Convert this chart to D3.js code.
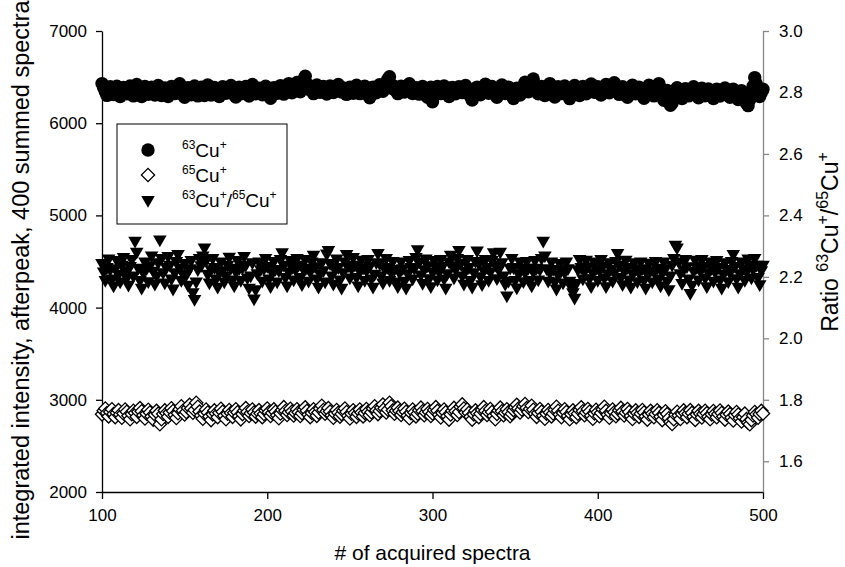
<!DOCTYPE html>
<html>
<head>
    <script type="text/javascript" src="https://cdn.jsdelivr.net/npm/d3@7/dist/d3.min.js"></script>
    <style>
        body { margin: 0; background: #fff; }
        text { font-family: "Liberation Sans", Arial, sans-serif; fill: #000; }
    </style>
</head>
<body>
    <div id="viz"></div>
    <script type="text/javascript">

    // spectra 100..500, one point each
    var firstSpectrum = 100;

    var cu63 = [
        6430, 6385, 6342, 6301, 6368, 6395, 6352, 6310, 6378, 6402, 6335, 6290, 6360, 6388, 6347, 6318, 6372, 6405, 6338, 6296,
        6365, 6420, 6375, 6330, 6288, 6352, 6398, 6361, 6314, 6345, 6390, 6342, 6305, 6370, 6410, 6356, 6299, 6338, 6382, 6327,
        6290, 6355, 6398, 6368, 6320, 6346, 6392, 6428, 6362, 6312, 6281, 6340, 6385, 6352, 6308, 6366, 6405, 6343, 6296, 6359,
        6392, 6331, 6300, 6372, 6415, 6348, 6305, 6340, 6387, 6360, 6318, 6290, 6352, 6396, 6368, 6325, 6345, 6384, 6410, 6356,
        6310, 6283, 6346, 6390, 6362, 6322, 6376, 6398, 6341, 6295, 6352, 6420, 6370, 6318, 6337, 6381, 6355, 6309, 6364, 6402,
        6347, 6300, 6271, 6338, 6386, 6360, 6325, 6372, 6408, 6352, 6315, 6342, 6389, 6430, 6378, 6330, 6356, 6398, 6442, 6385,
        6340, 6395, 6470, 6510, 6425, 6368, 6402, 6356, 6320, 6380, 6415, 6362, 6335, 6372, 6398, 6350, 6316, 6365, 6405, 6376,
        6332, 6361, 6394, 6420, 6370, 6338, 6382, 6355, 6312, 6348, 6390, 6366, 6325, 6376, 6412, 6357, 6320, 6346, 6385, 6402,
        6351, 6310, 6275, 6340, 6392, 6368, 6330, 6375, 6418, 6387, 6345, 6398, 6440, 6478, 6505, 6420, 6372, 6398, 6352, 6320,
        6366, 6402, 6375, 6338, 6356, 6392, 6428, 6370, 6322, 6348, 6384, 6356, 6315, 6362, 6398, 6370, 6330, 6280, 6345, 6390,
        6232, 6300, 6352, 6398, 6365, 6320, 6368, 6405, 6380, 6338, 6290, 6352, 6388, 6360, 6318, 6346, 6395, 6375, 6331, 6362,
        6410, 6376, 6335, 6290, 6250, 6322, 6366, 6392, 6350, 6308, 6348, 6385, 6422, 6370, 6325, 6356, 6398, 6362, 6318, 6280,
        6340, 6386, 6415, 6366, 6322, 6355, 6392, 6350, 6305, 6268, 6335, 6380, 6348, 6306, 6362, 6401, 6445, 6385, 6340, 6372,
        6418, 6480, 6402, 6355, 6318, 6365, 6398, 6352, 6300, 6340, 6390, 6430, 6376, 6325, 6284, 6350, 6396, 6362, 6320, 6365,
        6404, 6372, 6330, 6266, 6322, 6371, 6410, 6385, 6342, 6300, 6355, 6398, 6360, 6318, 6345, 6392, 6426, 6378, 6335, 6360,
        6395, 6352, 6306, 6345, 6388, 6420, 6376, 6330, 6365, 6402, 6440, 6398, 6350, 6312, 6356, 6395, 6368, 6322, 6280, 6340,
        6385, 6412, 6366, 6318, 6345, 6392, 6360, 6305, 6270, 6335, 6378, 6412, 6385, 6342, 6296, 6352, 6398, 6430, 6380, 6310,
        6248, 6295, 6356, 6262, 6195, 6220, 6285, 6340, 6386, 6350, 6302, 6268, 6330, 6375, 6342, 6296, 6318, 6362, 6395, 6352,
        6300, 6275, 6338, 6380, 6345, 6298, 6330, 6372, 6348, 6302, 6268, 6325, 6370, 6340, 6295, 6316, 6358, 6382, 6344, 6300,
        6282, 6330, 6368, 6335, 6290, 6256, 6310, 6352, 6318, 6270, 6215, 6190, 6255, 6330, 6402, 6495, 6425, 6348, 6290, 6330,
        6368
    ];

    var cu65 = [
        2842, 2880, 2905, 2856, 2820, 2868, 2898, 2845, 2812, 2860, 2888, 2840, 2805, 2852, 2895, 2870, 2828, 2790, 2845, 2882,
        2858, 2815, 2870, 2910, 2875, 2832, 2798, 2850, 2892, 2862, 2820, 2785, 2838, 2880, 2850, 2735, 2790, 2846, 2885, 2855,
        2815, 2862, 2908, 2878, 2835, 2802, 2855, 2898, 2930, 2882, 2840, 2868, 2912, 2945, 2905, 2860, 2890, 2968, 2925, 2872,
        2830, 2795, 2850, 2895, 2862, 2818, 2780, 2842, 2885, 2852, 2812, 2860, 2902, 2870, 2826, 2790, 2848, 2890, 2858, 2815,
        2860, 2898, 2865, 2822, 2788, 2845, 2882, 2910, 2868, 2825, 2855, 2895, 2862, 2818, 2850, 2888, 2852, 2812, 2846, 2885,
        2905, 2866, 2825, 2858, 2896, 2870, 2832, 2800, 2852, 2890, 2920, 2878, 2836, 2865, 2902, 2872, 2830, 2858, 2898, 2866,
        2825, 2855, 2892, 2918, 2880, 2838, 2812, 2858, 2898, 2868, 2826, 2862, 2905, 2935, 2890, 2848, 2875, 2910, 2872, 2830,
        2805, 2850, 2890, 2860, 2818, 2845, 2882, 2905, 2868, 2826, 2798, 2848, 2886, 2856, 2815, 2852, 2895, 2862, 2820, 2858,
        2900, 2870, 2832, 2865, 2905, 2930, 2885, 2845, 2878, 2915, 2948, 2905, 2862, 2892, 2968, 2930, 2885, 2848, 2882, 2915,
        2878, 2835, 2866, 2902, 2870, 2828, 2800, 2856, 2895, 2862, 2820, 2848, 2886, 2915, 2875, 2832, 2862, 2900, 2868, 2825,
        2852, 2890, 2920, 2880, 2838, 2808, 2856, 2895, 2865, 2822, 2785, 2840, 2882, 2912, 2875, 2835, 2868, 2925, 2950, 2905,
        2862, 2895, 2858, 2815, 2785, 2842, 2885, 2855, 2812, 2848, 2890, 2920, 2878, 2836, 2865, 2900, 2868, 2825, 2790, 2846,
        2885, 2915, 2875, 2832, 2860, 2898, 2866, 2822, 2850, 2888, 2918, 2945, 2905, 2862, 2895, 2930, 2955, 2910, 2868, 2900,
        2935, 2892, 2850, 2815, 2858, 2900, 2870, 2828, 2795, 2850, 2890, 2862, 2820, 2852, 2892, 2925, 2882, 2840, 2810, 2858,
        2898, 2868, 2825, 2790, 2842, 2885, 2855, 2812, 2848, 2890, 2918, 2875, 2832, 2862, 2900, 2870, 2826, 2795, 2852, 2892,
        2865, 2822, 2858, 2898, 2925, 2880, 2838, 2805, 2855, 2895, 2865, 2822, 2850, 2888, 2912, 2872, 2830, 2860, 2900, 2868,
        2825, 2792, 2848, 2885, 2856, 2815, 2850, 2890, 2862, 2820, 2785, 2840, 2880, 2852, 2810, 2846, 2886, 2858, 2815, 2780,
        2835, 2875, 2845, 2800, 2760, 2738, 2790, 2838, 2870, 2830, 2792, 2846, 2885, 2855, 2812, 2848, 2888, 2858, 2815, 2782,
        2840, 2880, 2850, 2808, 2845, 2882, 2855, 2815, 2790, 2842, 2878, 2850, 2810, 2846, 2884, 2856, 2818, 2785, 2838, 2872,
        2845, 2805, 2776, 2832, 2868, 2840, 2800, 2765, 2812, 2850, 2790, 2752, 2735, 2780, 2830, 2868, 2842, 2805, 2845, 2880,
        2852
    ];

    var ratio = [
        2.245, 2.218, 2.190, 2.232, 2.260, 2.225, 2.195, 2.172, 2.228, 2.255, 2.210, 2.185, 2.240, 2.265, 2.222, 2.198, 2.175, 2.236, 2.258, 2.205,
        2.318, 2.282, 2.230, 2.190, 2.165, 2.215, 2.250, 2.228, 2.186, 2.238, 2.270, 2.220, 2.178, 2.205, 2.248, 2.322, 2.262, 2.215, 2.182, 2.232,
        2.268, 2.240, 2.195, 2.162, 2.215, 2.252, 2.275, 2.230, 2.190, 2.212, 2.245, 2.208, 2.175, 2.228, 2.255, 2.150, 2.128, 2.185, 2.225, 2.262,
        2.238, 2.270, 2.296, 2.255, 2.210, 2.182, 2.225, 2.262, 2.232, 2.195, 2.168, 2.215, 2.250, 2.222, 2.185, 2.205, 2.240, 2.266, 2.230, 2.192,
        2.172, 2.218, 2.255, 2.228, 2.190, 2.232, 2.268, 2.240, 2.198, 2.165, 2.205, 2.248, 2.130, 2.160, 2.212, 2.250, 2.225, 2.188, 2.228, 2.262,
        2.236, 2.195, 2.170, 2.215, 2.252, 2.226, 2.185, 2.222, 2.258, 2.280, 2.240, 2.200, 2.172, 2.218, 2.255, 2.232, 2.192, 2.225, 2.262, 2.240,
        2.200, 2.176, 2.225, 2.258, 2.230, 2.188, 2.218, 2.250, 2.272, 2.235, 2.195, 2.168, 2.212, 2.248, 2.222, 2.185, 2.276, 2.288, 2.245, 2.205,
        2.178, 2.225, 2.260, 2.232, 2.192, 2.165, 2.215, 2.250, 2.275, 2.238, 2.198, 2.228, 2.265, 2.240, 2.200, 2.172, 2.220, 2.256, 2.230, 2.190,
        2.222, 2.258, 2.236, 2.195, 2.168, 2.210, 2.248, 2.278, 2.245, 2.205, 2.182, 2.228, 2.262, 2.232, 2.190, 2.215, 2.252, 2.226, 2.185, 2.170,
        2.215, 2.250, 2.228, 2.188, 2.165, 2.212, 2.255, 2.232, 2.195, 2.228, 2.265, 2.290, 2.250, 2.208, 2.180, 2.225, 2.260, 2.238, 2.196, 2.170,
        2.218, 2.255, 2.232, 2.192, 2.218, 2.258, 2.236, 2.195, 2.165, 2.212, 2.250, 2.272, 2.238, 2.198, 2.226, 2.262, 2.288, 2.245, 2.205, 2.178,
        2.220, 2.258, 2.232, 2.190, 2.168, 2.215, 2.252, 2.286, 2.245, 2.202, 2.176, 2.222, 2.258, 2.232, 2.190, 2.218, 2.255, 2.280, 2.240, 2.196,
        2.225, 2.282, 2.248, 2.205, 2.178, 2.140, 2.188, 2.230, 2.262, 2.232, 2.190, 2.166, 2.212, 2.250, 2.226, 2.186, 2.215, 2.252, 2.230, 2.190,
        2.172, 2.218, 2.255, 2.230, 2.192, 2.225, 2.262, 2.318, 2.270, 2.228, 2.188, 2.215, 2.250, 2.226, 2.185, 2.162, 2.208, 2.245, 2.222, 2.182,
        2.215, 2.250, 2.228, 2.188, 2.168, 2.150, 2.132, 2.180, 2.225, 2.258, 2.232, 2.195, 2.220, 2.256, 2.235, 2.196, 2.170, 2.215, 2.250, 2.228,
        2.190, 2.222, 2.258, 2.236, 2.198, 2.170, 2.212, 2.248, 2.226, 2.188, 2.215, 2.252, 2.278, 2.240, 2.200, 2.176, 2.220, 2.256, 2.232, 2.192,
        2.168, 2.212, 2.248, 2.225, 2.186, 2.215, 2.250, 2.228, 2.190, 2.165, 2.210, 2.246, 2.222, 2.185, 2.218, 2.252, 2.230, 2.195, 2.172, 2.215,
        2.250, 2.228, 2.188, 2.160, 2.205, 2.240, 2.262, 2.305, 2.296, 2.250, 2.212, 2.180, 2.225, 2.258, 2.235, 2.195, 2.148, 2.175, 2.220, 2.256,
        2.232, 2.192, 2.222, 2.258, 2.236, 2.198, 2.170, 2.215, 2.250, 2.228, 2.188, 2.218, 2.255, 2.232, 2.192, 2.165, 2.210, 2.248, 2.226, 2.186,
        2.215, 2.252, 2.275, 2.236, 2.196, 2.168, 2.212, 2.250, 2.228, 2.190, 2.218, 2.260, 2.238, 2.198, 2.226, 2.262, 2.240, 2.200, 2.176, 2.222,
        2.240
    ];

    var xTicks = [100, 200, 300, 400, 500];
    var leftTicks = [2000, 3000, 4000, 5000, 6000, 7000];
    var rightTicks = [1.6, 1.8, 2.0, 2.2, 2.4, 2.6, 2.8, 3.0];

    var W = 845, H = 567;
    // plot area (don't call these top/left - window.top is read only)
    var pLeft = 102, pRight = 763, pTop = 31, pBottom = 492;

    var svg = d3.select("#viz").append("svg")
        .attr("width", W)
        .attr("height", H);

    var x = d3.scaleLinear().domain([100, 500]).range([pLeft, pRight]);
    var yL = d3.scaleLinear().domain([2000, 7000]).range([pBottom, pTop]);
    var yR = d3.scaleLinear().domain([1.5, 3.0]).range([pBottom, pTop]);

    // axes
    var gx = svg.append("g").attr("transform", "translate(0," + pBottom + ")")
        .call(d3.axisBottom(x).tickValues(xTicks).tickFormat(d3.format("d")).tickSize(7).tickPadding(10).tickSizeOuter(0));
    var gl = svg.append("g").attr("transform", "translate(" + pLeft + ",0)")
        .call(d3.axisLeft(yL).tickValues(leftTicks).tickFormat(d3.format("d")).tickSize(6).tickPadding(9).tickSizeOuter(0));
    var gr = svg.append("g").attr("transform", "translate(" + pRight + ",0)")
        .call(d3.axisRight(yR).tickValues(rightTicks).tickFormat(d3.format(".1f")).tickSize(6).tickPadding(10).tickSizeOuter(0));

    [gx, gl, gr].forEach(function(g) {
        g.selectAll("text").style("font-size", "17px").style("font-family", "'Liberation Sans', Arial, sans-serif").attr("fill", "#000");
        g.selectAll("path, line").attr("stroke", "#000").attr("stroke-width", 1.3);
    });
    gr.selectAll("path, line").attr("stroke", "#888");

    function rows(vals) {
        return vals.map(function(v, i) { return { s: firstSpectrum + i, v: v }; });
    }

    var circle = d3.symbol().type(d3.symbolCircle).size(140);
    var diamond = d3.symbol().type(d3.symbolSquare).size(88);
    var triangle = d3.symbol().type(d3.symbolTriangle).size(80);

    var plot = svg.append("g");

    plot.selectAll(".c63").data(rows(cu63)).enter().append("path")
        .attr("d", circle)
        .attr("transform", function(d) { return "translate(" + x(d.s) + "," + yL(d.v) + ")"; })
        .attr("fill", "#000");

    plot.selectAll(".c65").data(rows(cu65)).enter().append("path")
        .attr("d", diamond)
        .attr("transform", function(d) { return "translate(" + x(d.s) + "," + yL(d.v) + ") rotate(45)"; })
        .attr("fill", "#fff").attr("stroke", "#000").attr("stroke-width", 1.3);

    plot.selectAll(".rat").data(rows(ratio)).enter().append("path")
        .attr("d", triangle)
        .attr("transform", function(d) { return "translate(" + x(d.s) + "," + yR(d.v) + ") rotate(180)"; })
        .attr("fill", "#000");

    // titles
    svg.append("text")
        .attr("transform", "translate(" + ((pLeft + pRight) / 2) + ",560)")
        .attr("text-anchor", "middle")
        .style("font-size", "21px")
        .text("# of acquired spectra");

    svg.append("text")
        .attr("transform", "translate(29,270) rotate(-90)")
        .attr("text-anchor", "middle")
        .style("font-size", "23.5px")
        .text("integrated intensity, afterpeak, 400 summed spectra");

    var rt = svg.append("text")
        .attr("transform", "translate(838,242) rotate(-90)")
        .attr("text-anchor", "middle")
        .style("font-size", "23px");
    rt.append("tspan").text("Ratio ");
    rt.append("tspan").attr("dy", -10).style("font-size", "16px").text("63");
    rt.append("tspan").attr("dy", 10).text("Cu");
    rt.append("tspan").attr("dy", -10).style("font-size", "16px").text("+");
    rt.append("tspan").attr("dy", 10).text("/");
    rt.append("tspan").attr("dy", -10).style("font-size", "16px").text("65");
    rt.append("tspan").attr("dy", 10).text("Cu");
    rt.append("tspan").attr("dy", -10).style("font-size", "16px").text("+");

    // legend
    var legendItems = [
        { sym: circle, fill: "#000", rot: 0, iso: "63", two: false },
        { sym: diamond, fill: "#fff", rot: 45, iso: "65", two: false },
        { sym: triangle, fill: "#000", rot: 180, iso: "63", two: true }
    ];

    var lg = svg.append("g");
    lg.append("rect")
        .attr("x", 117).attr("y", 124).attr("width", 170).attr("height", 100)
        .attr("fill", "#fff").attr("stroke", "#000").attr("stroke-width", 1);

    legendItems.forEach(function(it, i) {
        var cy = 150 + i * 25;
        lg.append("path")
            .attr("d", it.sym)
            .attr("transform", "translate(148," + cy + ") rotate(" + it.rot + ")")
            .attr("fill", it.fill)
            .attr("stroke", it.fill == "#fff" ? "#000" : "none")
            .attr("stroke-width", 1.3);
        var t = lg.append("text").attr("x", 182).attr("y", cy + 7).style("font-size", "19px");
        t.append("tspan").attr("dy", -8).style("font-size", "12px").text(it.iso);
        t.append("tspan").attr("dy", 8).text("Cu");
        t.append("tspan").attr("dy", -8).style("font-size", "12px").text("+");
        if (it.two) {
            t.append("tspan").attr("dy", 8).text("/");
            t.append("tspan").attr("dy", -8).style("font-size", "12px").text("65");
            t.append("tspan").attr("dy", 8).text("Cu");
            t.append("tspan").attr("dy", -8).style("font-size", "12px").text("+");
        }
    });

    </script>
</body>
</html>
